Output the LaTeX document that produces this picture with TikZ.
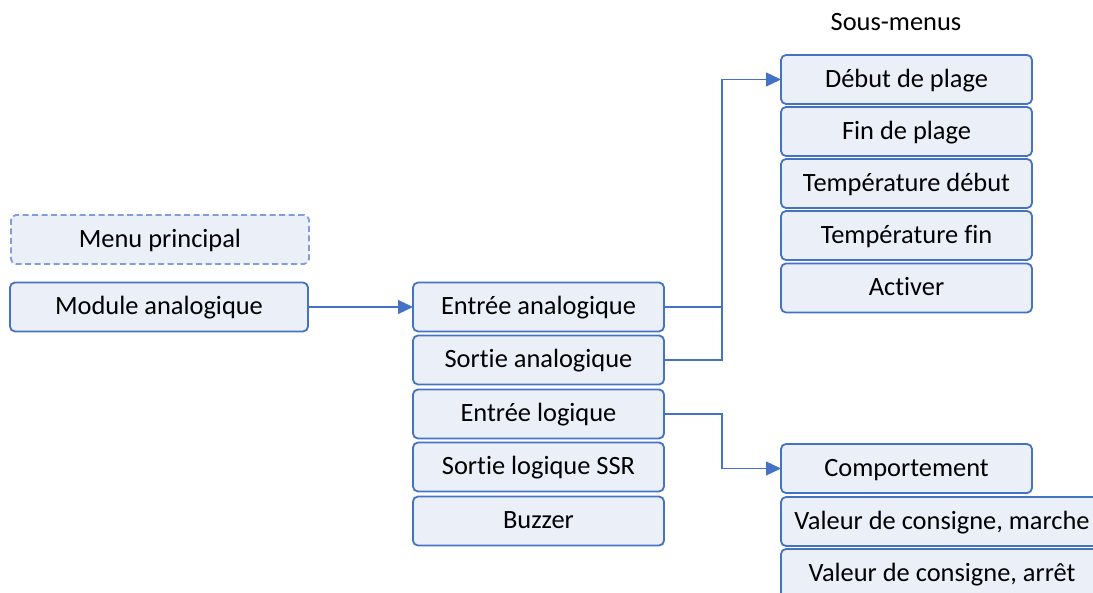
\documentclass[tikz,border=0pt]{standalone}
\usepackage{fontspec}
\setmainfont[Ligatures=NoCommon]{Carlito}
\usetikzlibrary{arrows.meta}
\definecolor{bordc}{HTML}{4472C4}
\definecolor{fillc}{HTML}{EBEFF7}
\definecolor{dashc}{HTML}{7F9FDA}
\tikzset{
  box/.style={draw=bordc, fill=fillc, line width=1.8pt, rounded corners=5pt,
    inner sep=0pt, outer sep=0pt, minimum height=49pt, text=black,
    text height=20pt, text depth=4pt,
    font=\fontsize{26.4}{30}\selectfont},
  midbox/.style={box, minimum width=251pt},
  dashbox/.style={box, draw=dashc, dash pattern=on 6pt off 3.5pt},
  conn/.style={draw=bordc, line width=1.3pt},
  arr/.style={conn, -{Triangle[length=15pt,width=14pt]}},
  lbl/.style={font=\fontsize{26.4}{30}\selectfont, inner sep=0pt,
    text height=20pt, text depth=4pt}
}
\begin{document}
\begin{tikzpicture}[x=1pt,y=-1pt]
\useasboundingbox (0,0) rectangle (1093,593);
\clip (0,0) rectangle (1093,593);
% left
\node[dashbox, minimum width=298pt] (mp) at (160,239.5) {Menu principal};
\node[box, minimum width=298pt] (ma) at (159,307) {Module analogique};
% middle
\node[midbox] (ea) at (538.5,307) {Entrée analogique};
\node[midbox] (sa) at (538.5,360) {Sortie analogique};
\node[midbox] (el) at (538.5,414) {Entrée logique};
\node[midbox] (sl) at (538.5,467) {Sortie logique SSR};
\node[midbox] (bz) at (538.5,521) {Buzzer};
% right top
\node[lbl] (sm) at (896,23) {Sous-menus};
\node[midbox] (deb) at (906.5,79.5) {Début de plage};
\node[midbox] (fin) at (906.5,131.5) {Fin de plage};
\node[midbox] (td) at (906.5,183.5) {Température début};
\node[midbox] (tf) at (906.5,235.5) {Température fin};
\node[midbox] (act) at (906.5,288) {Activer};
% right bottom
\node[midbox] (comp) at (906.5,468.5) {Comportement};
\node[box, minimum width=322pt, anchor=west] (vm) at (781,521.5) {Valeur de consigne, marche};
\node[box, minimum width=322pt, anchor=west] (va) at (781,573.5) {Valeur de consigne, arrêt};
% connectors
\coordinate (bus) at (722,0);
\draw[arr] (ma.east) -- (ea.west);
\draw[arr] (ea.east) -- (ea.east -| bus) |- (deb.west);
\draw[conn] (sa.east) -| (ea.east -| bus);
\draw[arr] (el.east) -- (el.east -| bus) |- (comp.west);
\end{tikzpicture}
\end{document}
